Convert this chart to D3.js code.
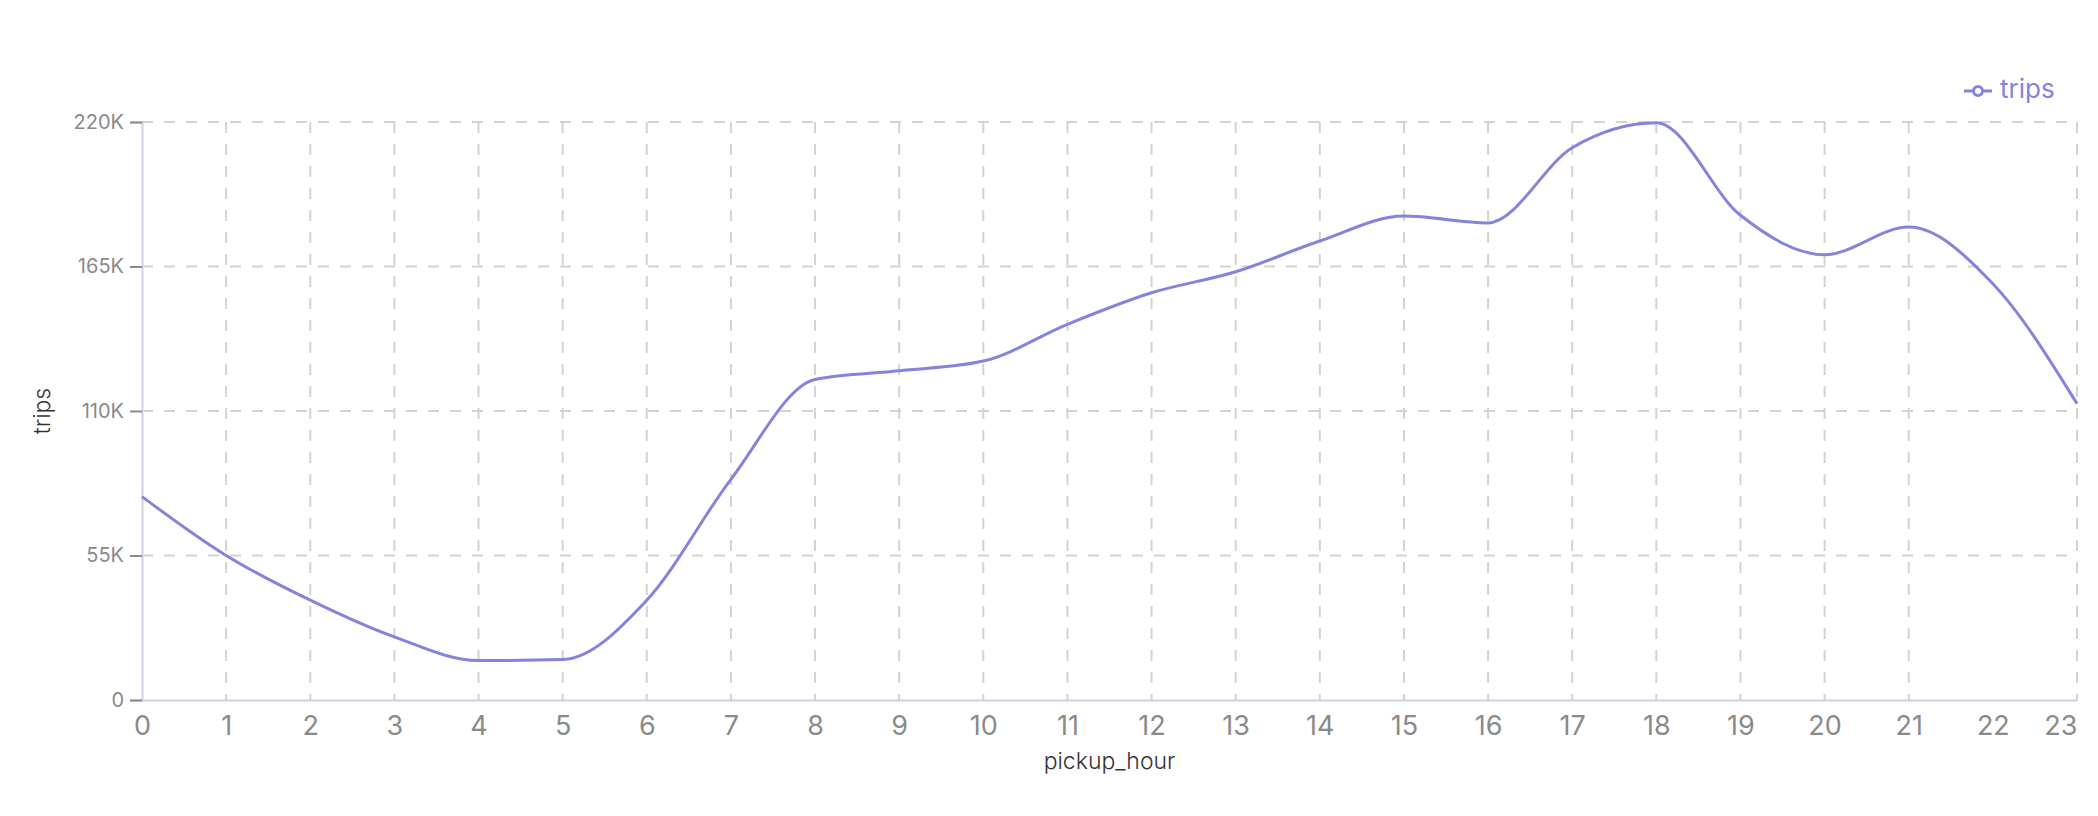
<!DOCTYPE html>
<html>
<head>
<meta charset="utf-8">
<script src="https://cdn.jsdelivr.net/npm/d3@7"></script>
<style>
  html, body { margin: 0; padding: 0; background: #fff; }
  svg { display: block; font-family: Inter, "Noto Sans", sans-serif; }
</style>
</head>
<body>
<svg id="chart" width="2098" height="816"></svg>
<script>
// ---- data ----
const hours = [0,1,2,3,4,5,6,7,8,9,10,11,12,13,14,15,16,17,18,19,20,21,22,23];
const trips = [77400, 55000, 38000, 24000, 15000, 15400, 38000, 84000, 122000, 125300, 129000, 143000,
               155000, 163000, 174700, 184200, 181600, 210200, 219700, 184500, 169500, 180000, 158400, 112800];
const yTickValues = [0, 55000, 110000, 165000, 220000];
const yTickLabels = ["0", "55K", "110K", "165K", "220K"];
const xGridHours = [1,2,3,4,5,6,7,8,9,10,11,12,13,14,15,16,17,18,19,20,21,23];
const seriesName = "trips";
const xTitle = "pickup_hour";
const yTitle = "trips";

// ---- layout ----
const W = 2098, H = 816;
const margin = { left: 142, right: 2098 - 2077, top: 122, bottom: 816 - 700 };
const lineColor = "#8583dc";
const gridColor = "#d3d3d1";
const axisColor = "#cdd1e3";
const tickTextColor = "#8a8a8a";

const svg = d3.select("#chart");
const x = d3.scaleLinear().domain([0, 23]).range([margin.left, W - margin.right]);
const y = d3.scaleLinear().domain([0, 220000]).range([H - margin.bottom, margin.top]);

// horizontal grid
svg.append("g").selectAll("line").data(yTickValues.filter(v => v > 0)).join("line")
  .attr("x1", x(0)).attr("x2", x(23))
  .attr("y1", d => y(d)).attr("y2", d => y(d))
  .attr("stroke", gridColor).attr("stroke-width", 2).attr("stroke-dasharray", "11,11");

// vertical grid
svg.append("g").selectAll("line").data(xGridHours).join("line")
  .attr("x1", d => x(d)).attr("x2", d => x(d))
  .attr("y1", y(220000)).attr("y2", y(0))
  .attr("stroke", gridColor).attr("stroke-width", 2).attr("stroke-dasharray", "11,11");

// y axis
const yAxis = d3.axisLeft(y).tickValues(yTickValues)
  .tickFormat((d, i) => yTickLabels[i]).tickSize(12).tickPadding(6);
const gy = svg.append("g").attr("transform", `translate(${x(0)},0)`).call(yAxis);
gy.select(".domain").attr("stroke", axisColor).attr("stroke-width", 2);
gy.selectAll(".tick line").attr("stroke", "#8a8a8a").attr("stroke-width", 2);
gy.selectAll(".tick text").attr("fill", tickTextColor).attr("font-size", 20)
  .attr("font-family", "Inter, sans-serif");

// x axis
const xAxis = d3.axisBottom(x).tickValues(hours).tickFormat(d3.format("d")).tickSize(0).tickPadding(16);
const gx = svg.append("g").attr("transform", `translate(0,${y(0)})`).call(xAxis);
gx.select(".domain").attr("stroke", axisColor).attr("stroke-width", 2);
gx.selectAll(".tick text").attr("fill", tickTextColor).attr("font-size", 27)
  .attr("font-family", "Inter, sans-serif")
  .attr("text-anchor", d => d === 23 ? "end" : "middle");

// axis titles
svg.append("text").attr("x", (x(0) + x(23)) / 2).attr("y", 769)
  .attr("text-anchor", "middle").attr("font-size", 23).attr("font-weight", 300)
  .attr("fill", "#333").text(xTitle);
svg.append("text").attr("transform", `translate(50,${(y(0) + y(220000)) / 2}) rotate(-90)`)
  .attr("text-anchor", "middle").attr("font-size", 23).attr("font-weight", 300)
  .attr("fill", "#333").text(yTitle);

// line
const line = d3.line().x((d, i) => x(hours[i])).y(d => y(d)).curve(d3.curveMonotoneX);
svg.append("path").datum(trips).attr("d", line)
  .attr("fill", "none").attr("stroke", lineColor).attr("stroke-width", 3);

// legend
const lg = svg.append("g").attr("transform", "translate(1964,91)");
lg.append("line").attr("x1", 0).attr("x2", 28).attr("y1", 0).attr("y2", 0)
  .attr("stroke", lineColor).attr("stroke-width", 3);
lg.append("circle").attr("cx", 14).attr("cy", 0).attr("r", 4.5)
  .attr("fill", "#fff").attr("stroke", lineColor).attr("stroke-width", 3);
lg.append("text").attr("x", 36).attr("y", 7).attr("font-size", 26)
  .attr("fill", lineColor).text(seriesName);
</script>
</body>
</html>
